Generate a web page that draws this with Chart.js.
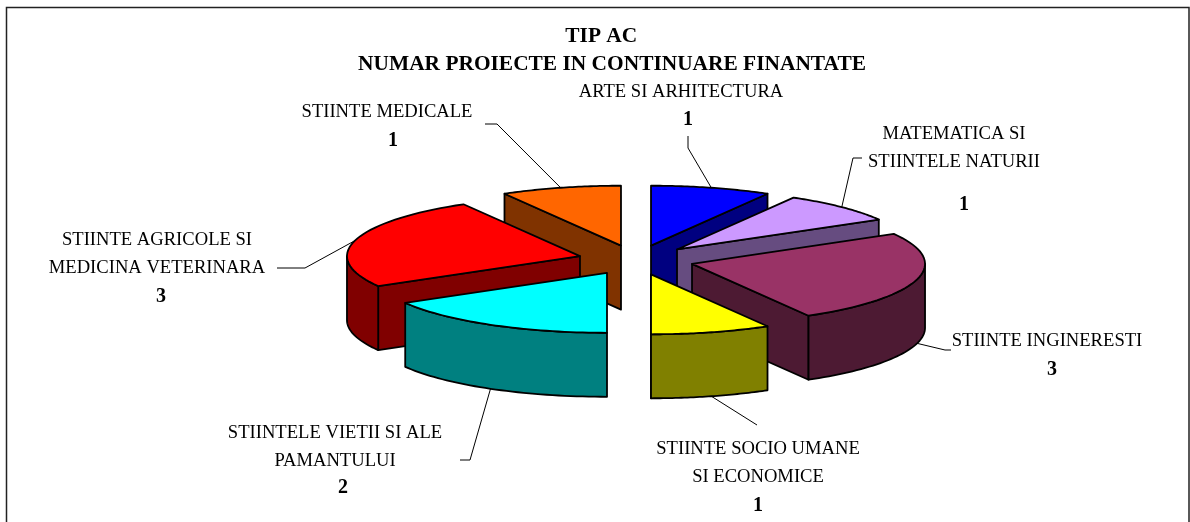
<!DOCTYPE html>
<html>
<head>
<meta charset="utf-8">
<title>TIP AC</title>
<script src="https://cdn.jsdelivr.net/npm/chart.js@4"></script>
<style>
  html, body { margin: 0; padding: 0; background: #fff; }
  #wrap { position: relative; width: 1190px; height: 522px; overflow: hidden; }
</style>
</head>
<body>
<div id="wrap"><canvas id="chart" width="1190" height="522"></canvas></div>
<script>
const categories = [
  ['ARTE SI ARHITECTURA'],
  ['MATEMATICA SI', 'STIINTELE NATURII'],
  ['STIINTE INGINERESTI'],
  ['STIINTE SOCIO UMANE', 'SI ECONOMICE'],
  ['STIINTELE VIETII SI ALE', 'PAMANTULUI'],
  ['STIINTE AGRICOLE SI', 'MEDICINA VETERINARA'],
  ['STIINTE MEDICALE']
];
const proiecte = [1, 1, 3, 1, 2, 3, 1];
const topColors = ['#0000FF', '#CC99FF', '#993366', '#FFFF00', '#00FFFF', '#FF0000', '#FF6600'];
const wallColors = ['#000080', '#664C80', '#4D1A33', '#808000', '#008080', '#800000', '#803300'];
const titleLines = ['TIP AC    ', 'NUMAR PROIECTE IN CONTINUARE FINANTATE'];

// label placement: centre x, first line y, value x, value y
const labelPos = [
  [681, 92.5, 688, 120],
  [954, 134.5, 964, 205],
  [1047, 341.5, 1052, 370],
  [758, 449.5, 758, 506],
  [335, 433.5, 343, 488],
  [157, 240.5, 161, 297],
  [387, 112.5, 393, 141]
];
// leader line bends after leaving the slice
const leaderPos = [
  [[688, 148], [688, 136]],
  [[853, 158], [862, 158]],
  [[945, 350], [951, 350]],
  [[757, 425]],
  [[470, 460], [460, 460]],
  [[305, 268], [277, 268]],
  [[497, 124], [485, 124]]
];

const SQUASH = 0.257;
const EXPLODE = 58;
const DEPTH = 64;
const RADIUS = 233;

function midOf(arc) {
  return (arc.startAngle + arc.endAngle) / 2;
}

// pie angle -> flattened page position
function project(arc, angle, r, drop) {
  const mid = midOf(arc);
  return {
    x: arc.x + Math.cos(mid) * EXPLODE + Math.cos(angle) * r,
    y: arc.y + SQUASH * (Math.sin(mid) * EXPLODE + Math.sin(angle) * r) + (drop || 0)
  };
}

function wallFace(ctx, pts, color) {
  ctx.beginPath();
  pts.forEach((p, i) => i ? ctx.lineTo(p.x, p.y) : ctx.moveTo(p.x, p.y));
  ctx.closePath();
  ctx.fillStyle = color;
  ctx.fill();
  ctx.stroke();
}

function drawSlice(ctx, arc, i) {
  const r = arc.outerRadius;
  const mid = midOf(arc);
  ctx.lineWidth = 1.8;
  ctx.lineJoin = 'round';
  ctx.strokeStyle = '#000';

  // flat side faces, only those turned towards the viewer
  [[arc.startAngle, arc.startAngle - Math.PI / 2], [arc.endAngle, arc.endAngle + Math.PI / 2]].forEach(([a, normal]) => {
    if (Math.sin(normal) > 0) {
      wallFace(ctx, [
        project(arc, 0, 0), project(arc, a, r),
        project(arc, a, r, DEPTH), project(arc, 0, 0, DEPTH)
      ], wallColors[i]);
    }
  });

  // curved outer wall, front half only
  const from = Math.max(arc.startAngle, 0);
  const to = Math.min(arc.endAngle, Math.PI);
  if (to > from) {
    const upper = [], lower = [];
    for (let s = 0; s <= 40; s++) {
      const a = from + (to - from) * s / 40;
      upper.push(project(arc, a, r));
      lower.unshift(project(arc, a, r, DEPTH));
    }
    wallFace(ctx, upper.concat(lower), wallColors[i]);
  }

  // top face is the library's own arc element, flattened
  ctx.save();
  ctx.translate(arc.x, arc.y);
  ctx.scale(1, SQUASH);
  ctx.translate(-arc.x, -arc.y);
  ctx.translate(Math.cos(mid) * EXPLODE, Math.sin(mid) * EXPLODE);
  arc.draw(ctx);
  ctx.restore();

  // outline after the transform so the pen stays round
  const pts = [project(arc, 0, 0)];
  for (let s = 0; s <= 40; s++) {
    pts.push(project(arc, arc.startAngle + (arc.endAngle - arc.startAngle) * s / 40, r));
  }
  ctx.beginPath();
  pts.forEach((p, k) => k ? ctx.lineTo(p.x, p.y) : ctx.moveTo(p.x, p.y));
  ctx.closePath();
  ctx.stroke();
}

const pie3d = {
  id: 'pie3d',
  afterLayout(chart) {
    // title sits left of the pie centre
    chart.titleBlock.left -= 24;
    chart.titleBlock.right -= 24;
  },
  beforeDraw(chart) {
    const ctx = chart.ctx;
    ctx.save();
    ctx.strokeStyle = '#222';
    ctx.lineWidth = 1.5;
    ctx.strokeRect(6.5, 7.5, 1182.5, 600);
    ctx.restore();
  },
  beforeDatasetDraw(chart, args) {
    const ctx = chart.ctx;
    const arcs = args.meta.data;
    const order = arcs.map((a, i) => i)
      .sort((p, q) => Math.sin(midOf(arcs[p])) - Math.sin(midOf(arcs[q])));

    // leaders go under the slices
    ctx.save();
    ctx.strokeStyle = '#000';
    ctx.lineWidth = 1;
    arcs.forEach((arc, i) => {
      const mid = midOf(arc);
      const start = project(arc, mid, arc.outerRadius, Math.sin(mid) > 0 ? DEPTH : 0);
      ctx.beginPath();
      ctx.moveTo(start.x, start.y);
      leaderPos[i].forEach(p => ctx.lineTo(p[0], p[1]));
      ctx.stroke();
    });
    ctx.restore();

    ctx.save();
    order.forEach(i => drawSlice(ctx, arcs[i], i));
    ctx.restore();

    ctx.save();
    ctx.fillStyle = '#000';
    ctx.textAlign = 'center';
    ctx.textBaseline = 'middle';
    categories.forEach((lines, i) => {
      const [cx, cy, vx, vy] = labelPos[i];
      ctx.font = '18.6px "Liberation Serif"';
      lines.forEach((line, k) => ctx.fillText(line, cx, cy + k * 27.5));
      ctx.font = 'bold 20px "Liberation Serif"';
      ctx.fillText(String(proiecte[i]), vx, vy);
    });
    ctx.restore();
    return false;
  }
};

new Chart(document.getElementById('chart'), {
  type: 'pie',
  data: {
    labels: categories.map(l => l.join(' ')),
    datasets: [{
      data: proiecte,
      backgroundColor: topColors,
      borderWidth: 0
    }]
  },
  options: {
    responsive: false,
    animation: false,
    radius: RADIUS,
    layout: { padding: { left: 82, right: 0, top: 0, bottom: 80 } },
    plugins: {
      legend: { display: false },
      tooltip: { enabled: false },
      title: {
        display: true,
        text: titleLines,
        color: '#000',
        font: { family: '"Liberation Serif"', size: 21.4, weight: 'bold', lineHeight: 28 / 21.4 },
        padding: { top: 22, bottom: 0 }
      }
    }
  },
  plugins: [pie3d]
});
</script>
</body>
</html>
